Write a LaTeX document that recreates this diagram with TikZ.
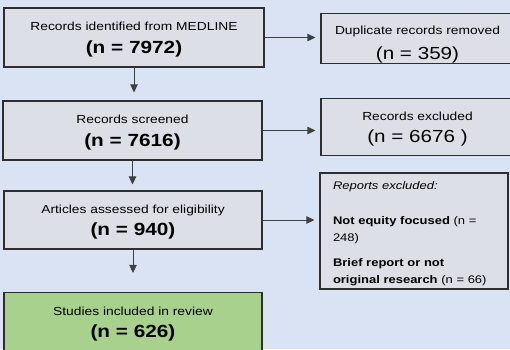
\documentclass[tikz,border=0pt]{standalone}
\usepackage{fontspec}
\setmainfont{Liberation Sans}[FakeStretch=1.18]
\usetikzlibrary{arrows.meta}
\definecolor{pagebg}{HTML}{DAE3F3}
\definecolor{boxgray}{HTML}{DCDFE6}
\definecolor{boxgreen}{HTML}{A9D18E}
\definecolor{edgegray}{HTML}{2E2E2E}
\definecolor{arrowgray}{HTML}{404040}

\begin{document}
\begin{tikzpicture}[x=1pt, y=-1pt, >={Triangle[length=8pt,width=7.5pt]},
  box/.style={draw=edgegray, line width=1.2pt, fill=boxgray, align=center,
    inner sep=0pt, font=\fontsize{11.7}{22.6}\selectfont,
    text height=35.3pt, text depth=3.7pt},
  flow/.style={->, draw=arrowgray, fill=arrowgray, line width=0.9pt}]
  \useasboundingbox (0,0) rectangle (510,349);
  \clip (0,0) rectangle (510,349);
  \fill[pagebg] (0,0) rectangle (510,349);

  \node[box, minimum width=260pt, minimum height=59pt] (ident) at (134,37.5)
    {Records identified from MEDLINE\\{\fontsize{17.6}{20}\selectfont\bfseries (n = 7972)}};
  \node[box, minimum width=259pt, minimum height=59pt] (screen) at (132.5,130.5)
    {Records screened\\{\fontsize{17.6}{20}\selectfont\bfseries (n = 7616)}};
  \node[box, minimum width=258pt, minimum height=58pt] (assess) at (133,220)
    {Articles assessed for eligibility\\{\fontsize{17.6}{20}\selectfont\bfseries (n = 940)}};
  \node[box, fill=boxgreen, minimum width=258pt, minimum height=59pt] (incl) at (133,322)
    {Studies included in review\\{\fontsize{17.6}{20}\selectfont\bfseries (n = 626)}};

  \node[box, text height=45pt, text depth=3.8pt, font=\fontsize{11.7}{25}\selectfont,
    minimum width=193pt, minimum height=50pt] (dup) at (417.5,38.7)
    {Duplicate records removed\\{\fontsize{17.5}{20}\selectfont (n = 359)}};
  \node[box, text height=35.8pt, text depth=3.8pt, font=\fontsize{11.7}{22.7}\selectfont,
    minimum width=193pt, minimum height=57pt] (excl) at (417.5,126.7)
    {Records excluded\\{\fontsize{17.5}{20}\selectfont (n = 6676 )}};
  \node[box, align=left, inner xsep=13pt, text width=162pt, minimum height=116pt,
    text height=12pt, text depth=96pt,
    font=\fontsize{11}{16.3}\selectfont] (reports) at (414,231)
    {\textit{Reports excluded:}\\[19.5pt]
     \textbf{Not equity focused} (n =\\248)\\[9.4pt]
     \textbf{Brief report or not}\\\textbf{original research} (n = 66)};

  \draw[flow, shorten >=8pt] (ident.south) -- (ident.south |- screen.north);
  \draw[flow, shorten >=6pt] (screen.south) -- (screen.south |- assess.north);
  \draw[flow, shorten >=19pt] (assess.south) -- (assess.south |- incl.north);
  \draw[flow, shorten >=5pt] (ident.east) -- (ident.east -| dup.west);
  \draw[flow, shorten >=5pt] (screen.east) -- (screen.east -| excl.west);
  \draw[flow, shorten >=5pt] (assess.east) -- (assess.east -| reports.west);
\end{tikzpicture}
\end{document}
